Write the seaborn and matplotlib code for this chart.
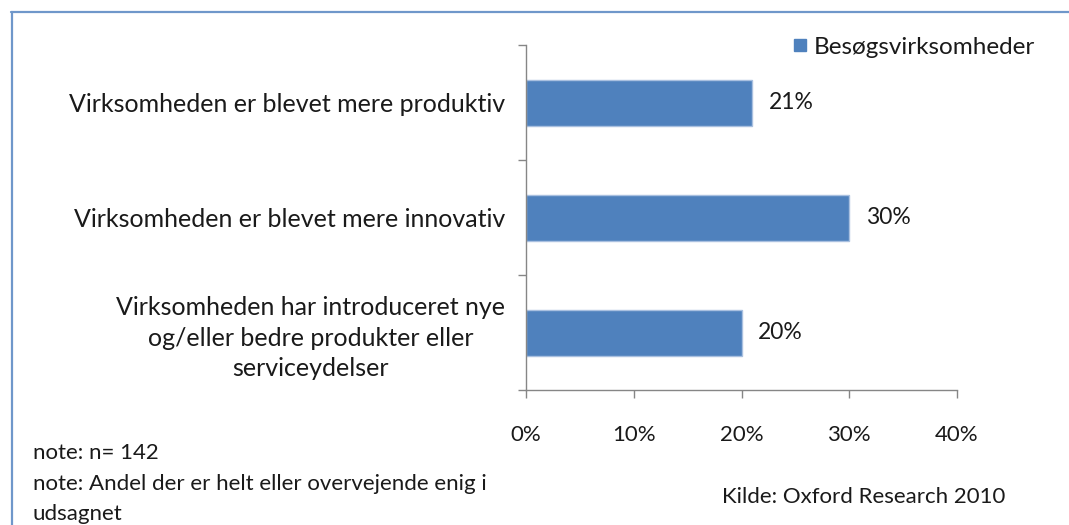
import matplotlib
matplotlib.use("Agg")
import matplotlib.pyplot as plt
from matplotlib.lines import Line2D
from matplotlib.ticker import FixedLocator, PercentFormatter
import seaborn as sns
import pandas as pd

categories = [
    "Virksomheden er blevet mere produktiv",
    "Virksomheden er blevet mere innovativ",
    "Virksomheden har introduceret nye\nog/eller bedre produkter eller\nserviceydelser",
]
values = [21, 30, 20]
series_name = "Besøgsvirksomheder"
x_ticks = [0, 10, 20, 30, 40]
notes = ["note: n= 142", "note: Andel der er helt eller overvejende enig i", "udsagnet"]
source = "Kilde: Oxford Research 2010"

bar_color = "#4F81BD"
axis_color = "#868686"
text_color = "#1a1a1a"

sns.set_theme(style="white")
plt.rcParams["font.family"] = ["Lato", "DejaVu Sans"]

df = pd.DataFrame({"Udsagn": categories, "Andel": values, "Serie": series_name})

fig = plt.figure(figsize=(10.69, 5.25), dpi=100)
fig.patch.set_facecolor("white")
ax = fig.add_axes([526 / 1069, 1 - 390 / 525, (957 - 526) / 1069, (390 - 45) / 525])

sns.barplot(data=df, y="Udsagn", x="Andel", hue="Serie", palette=[bar_color],
            orient="h", width=0.4, saturation=1, ax=ax, edgecolor="#a9c0e0",
            linewidth=1.0, legend=False)

ax.set_xlim(0, 40)
ax.set_ylim(2.5, -0.5)
ax.set_xlabel("")
ax.set_ylabel("")
ax.xaxis.set_major_locator(FixedLocator(x_ticks))
ax.xaxis.set_major_formatter(PercentFormatter(decimals=0))

for side in ["top", "right"]:
    ax.spines[side].set_visible(False)
for side in ["left", "bottom"]:
    ax.spines[side].set_color(axis_color)
    ax.spines[side].set_linewidth(1.0)

# category labels, with tick marks on the boundaries between categories
ax.set_yticks(range(len(categories)))
ax.set_yticklabels(categories, multialignment="center")
ax.yaxis.set_minor_locator(FixedLocator([-0.5, 0.5, 1.5, 2.5]))
ax.tick_params(axis="y", which="major", length=0, pad=15, labelsize=18, labelcolor=text_color)
ax.tick_params(axis="y", which="minor", left=True, length=5.5, width=1.0, color=axis_color, direction="out")
for lbl in ax.get_yticklabels():
    lbl.set_linespacing(1.38)

ax.tick_params(axis="x", which="major", bottom=True, length=5.5, width=1.0, color=axis_color,
               direction="out", pad=20, labelsize=16, labelcolor=text_color)

# value labels next to each bar
for i, v in enumerate(values):
    ax.annotate(f"{v}%", xy=(v, i), xytext=(12, 0), textcoords="offset points",
                va="center", ha="left", fontsize=16.5, color=text_color)

# legend
handle = Line2D([], [], marker="s", linestyle="none", markersize=9,
                markerfacecolor=bar_color, markeredgecolor=bar_color)
fig.legend([handle], [series_name], loc="center left",
           bbox_to_anchor=(754 / 1069, 1 - 47 / 525), frameon=False,
           fontsize=17.5, handletextpad=-0.43, labelcolor=text_color)

# notes and source
for k, line in enumerate(notes):
    fig.text(33 / 1069, 1 - (453 + 30.5 * k) / 525, line, fontsize=16,
             color=text_color, va="center", ha="left")
fig.text(722 / 1069, 1 - 497 / 525, source, fontsize=16, color=text_color,
         va="center", ha="left")

# outer frame
frame_color = "#6f97ca"
fig.add_artist(Line2D([11 / 1069, 1.0], [1 - 12 / 525, 1 - 12 / 525],
                      color=frame_color, linewidth=1.6, transform=fig.transFigure))
fig.add_artist(Line2D([12 / 1069, 12 / 1069], [0.0, 1 - 12 / 525],
                      color=frame_color, linewidth=1.6, transform=fig.transFigure))

fig.savefig("out.png", dpi=100, facecolor="white")
